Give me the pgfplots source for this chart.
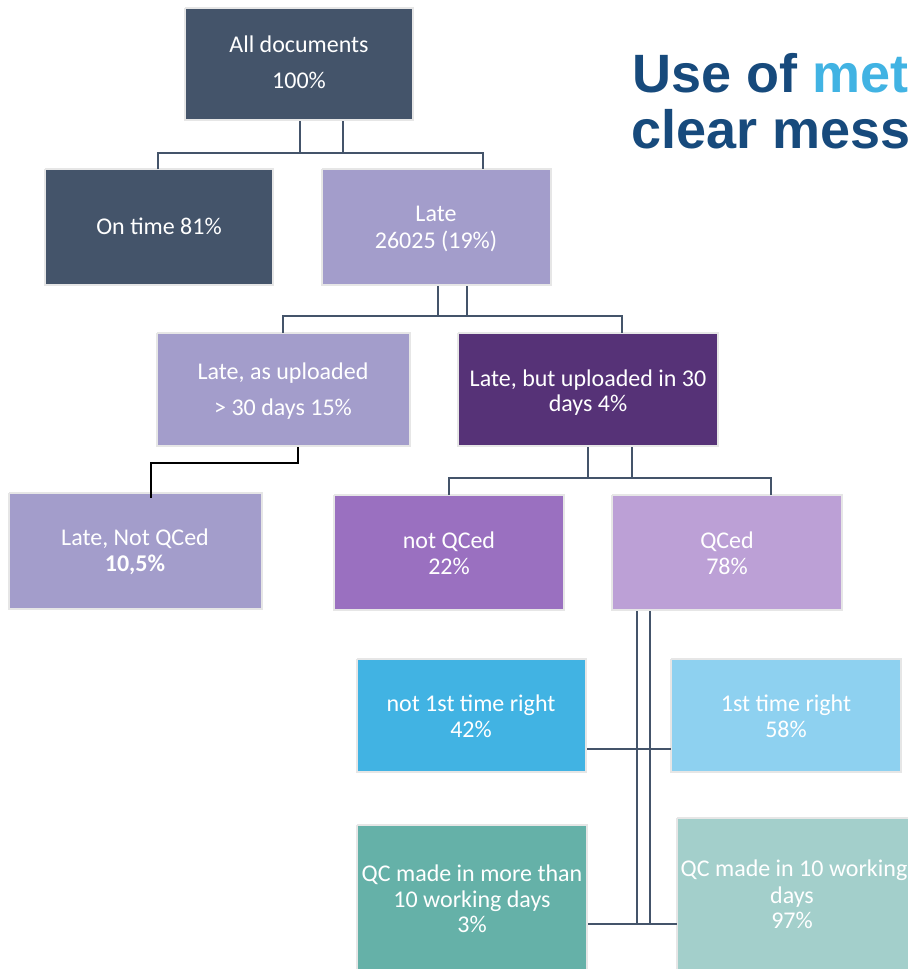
\documentclass[border=0pt]{standalone}
\usepackage{pgfplots}
\pgfplotsset{compat=1.18}
\usepackage{fontspec}
\setmainfont{Carlito}
\newfontfamily\titlefont{Liberation Sans}
\definecolor{slate}{HTML}{44546A}
\definecolor{lav}{HTML}{A39DCB}
\definecolor{dpurple}{HTML}{563277}
\definecolor{mpurple}{HTML}{9A70C0}
\definecolor{lpurple}{HTML}{BCA0D6}
\definecolor{blueA}{HTML}{41B3E3}
\definecolor{blueB}{HTML}{8ED1F0}
\definecolor{tealA}{HTML}{65B1A8}
\definecolor{tealB}{HTML}{A3CFCB}
\definecolor{titleblue}{HTML}{174A7C}
\definecolor{boxborder}{HTML}{E6E6E6}
\newcommand{\boxp}[5]{\addplot[fill=#5, draw=boxborder, line width=1pt] coordinates {(#1,#2) (#3,#2) (#3,#4) (#1,#4) (#1,#2)};}
\newcommand{\txt}[3]{\node[anchor=base, text=white, inner sep=0pt, font=\fontsize{12}{13}\selectfont] at (axis cs:#1,#2) {#3};}
\begin{document}
\begin{tikzpicture}
\begin{axis}[
  xmin=0, xmax=907, ymin=0, ymax=969, y dir=reverse,
  hide axis, scale only axis, width=453.5pt, height=484.5pt, clip=false]
% boxes
\boxp{185}{8}{413}{120}{slate}
\boxp{45}{169}{273}{285}{slate}
\boxp{322}{169}{551}{285}{lav}
\boxp{157}{333}{410}{446}{lav}
\boxp{458}{333}{718}{446}{dpurple}
\boxp{9}{493}{262}{609}{lav}
\boxp{334}{495}{564}{610}{mpurple}
\boxp{612}{495}{842}{610}{lpurple}
\boxp{357}{659}{586}{772}{blueA}
\boxp{671}{659}{901}{772}{blueB}
\boxp{357}{825}{587}{975}{tealA}
\boxp{677}{818}{912}{975}{tealB}
% connectors
\addplot[slate, line width=1.25pt] coordinates {(158,169) (158,153) (483,153) (483,169)};
\addplot[slate, line width=1.25pt] coordinates {(300,121) (300,153)};
\addplot[slate, line width=1.25pt] coordinates {(343,121) (343,153)};
\addplot[slate, line width=1.25pt] coordinates {(283,333) (283,316) (622,316) (622,333)};
\addplot[slate, line width=1.25pt] coordinates {(438,286) (438,316)};
\addplot[slate, line width=1.25pt] coordinates {(467,286) (467,316)};
\addplot[black, line width=1pt] coordinates {(298,447) (298,463) (151,463) (151,498)};
\addplot[slate, line width=1.25pt] coordinates {(449,495) (449,478) (771,478) (771,495)};
\addplot[slate, line width=1.25pt] coordinates {(588,447) (588,478)};
\addplot[slate, line width=1.25pt] coordinates {(632,447) (632,478)};
\addplot[slate, line width=1.25pt] coordinates {(637,611) (637,924)};
\addplot[slate, line width=1.25pt] coordinates {(650,611) (650,924)};
\addplot[slate, line width=1.25pt] coordinates {(587,749) (671,749)};
\addplot[slate, line width=1.25pt] coordinates {(588,924) (677,924)};
% texts
\txt{299}{53}{All documents}
\txt{299}{88}{100\%}
\txt{159}{234}{On time 81\%}
\txt{436}{221}{Late}
\txt{436}{248}{26025 (19\%)}
\txt{283}{379}{Late, as uploaded}
\txt{283}{415}{> 30 days 15\%}
\txt{588}{386}{Late, but uploaded in 30}
\txt{588}{411}{days 4\%}
\txt{135}{545}{Late, Not QCed}
\txt{135}{571}{\bfseries 10,5\%}
\txt{449}{548}{not QCed}
\txt{449}{574}{22\%}
\txt{727}{548}{QCed}
\txt{727}{574}{78\%}
\txt{471}{711}{not 1st time right}
\txt{471}{737}{42\%}
\txt{786}{711}{1st time right}
\txt{786}{737}{58\%}
\txt{472}{881}{QC made in more than}
\txt{472}{907}{10 working days}
\txt{472}{932}{3\%}
\txt{794}{876}{QC made in 10 working}
\txt{792}{903}{days}
\txt{792}{928}{97\%}
% title
\node[anchor=base west, inner sep=0pt, font=\titlefont\bfseries\fontsize{27}{28}\selectfont, text=titleblue] at (axis cs:632,92) {Use of \textcolor{blueA}{met}};
\node[anchor=base west, inner sep=0pt, font=\titlefont\bfseries\fontsize{27}{28}\selectfont, text=titleblue] at (axis cs:631,148) {clear mess};
\end{axis}
\pgfresetboundingbox
\path (current axis.south west) rectangle (current axis.north east);
\end{tikzpicture}
\end{document}
